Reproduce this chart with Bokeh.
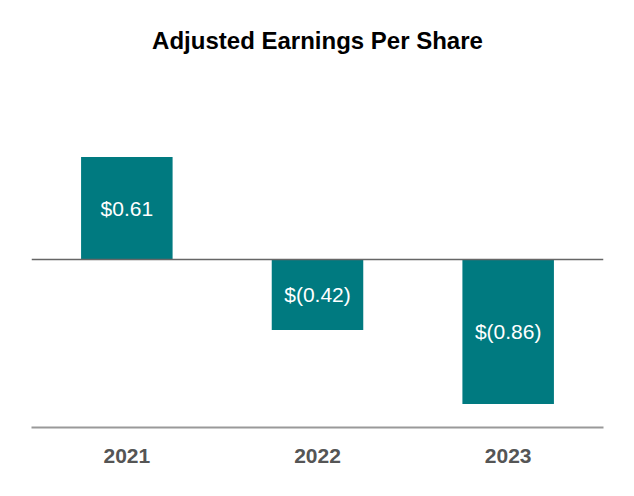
from bokeh.plotting import figure
from bokeh.models import ColumnDataSource, Span, Label, FactorRange, Range1d
from bokeh.core.properties import value
from bokeh.embed import file_html
from bokeh.resources import INLINE

years = ["2021", "2022", "2023"]
eps = [0.61, -0.42, -0.86]
eps_labels = ["$0.61", "$(0.42)", "$(0.86)"]
title_text = "Adjusted Earnings Per Share"

BAR = "#007A80"
FONT = "Liberation Sans"

src = ColumnDataSource(dict(
    x=years, top=eps, mid=[v / 2 for v in eps], lab=eps_labels,
))

Y_TOP = 427 / 168.0 - 1.0

p = figure(
    x_range=FactorRange(*years, range_padding=0),
    y_range=Range1d(-1.0, Y_TOP),
    width=618, height=480,
    output_backend="svg", toolbar_location=None,
    y_axis_location=None,
    min_border_left=31, min_border_right=15, min_border_top=0, min_border_bottom=53,
)
p.outline_line_color = None
p.xgrid.visible = False
p.ygrid.visible = False
p.background_fill_color = "white"
p.border_fill_color = "white"

p.vbar(x="x", top="top", bottom=0, width=0.48, source=src,
       fill_color=BAR, line_color=None)

p.add_layout(Span(location=0, dimension="width", line_color="#666666", line_width=1.5))

p.text(x="x", y="mid", text="lab", source=src, text_color="white",
       text_font=value(FONT), text_font_size="21px", text_align="center",
       text_baseline="middle")

p.add_layout(Label(x=1.5, y=(259 - 40) / 168.0, text=title_text, text_font=FONT,
                   text_font_size="24px", text_font_style="bold", text_color="black",
                   text_align="center", text_baseline="middle"))

ax = p.xaxis[0]
ax.axis_line_color = "#999999"
ax.axis_line_width = 2
ax.major_tick_line_color = None
ax.minor_tick_line_color = None
ax.major_tick_out = 0
ax.major_tick_in = 0
ax.major_label_standoff = 21
ax.major_label_text_font = FONT
ax.major_label_text_font_size = "21px"
ax.major_label_text_font_style = "bold"
ax.major_label_text_color = "#555555"

open("out.html", "w").write(file_html(p, INLINE))
